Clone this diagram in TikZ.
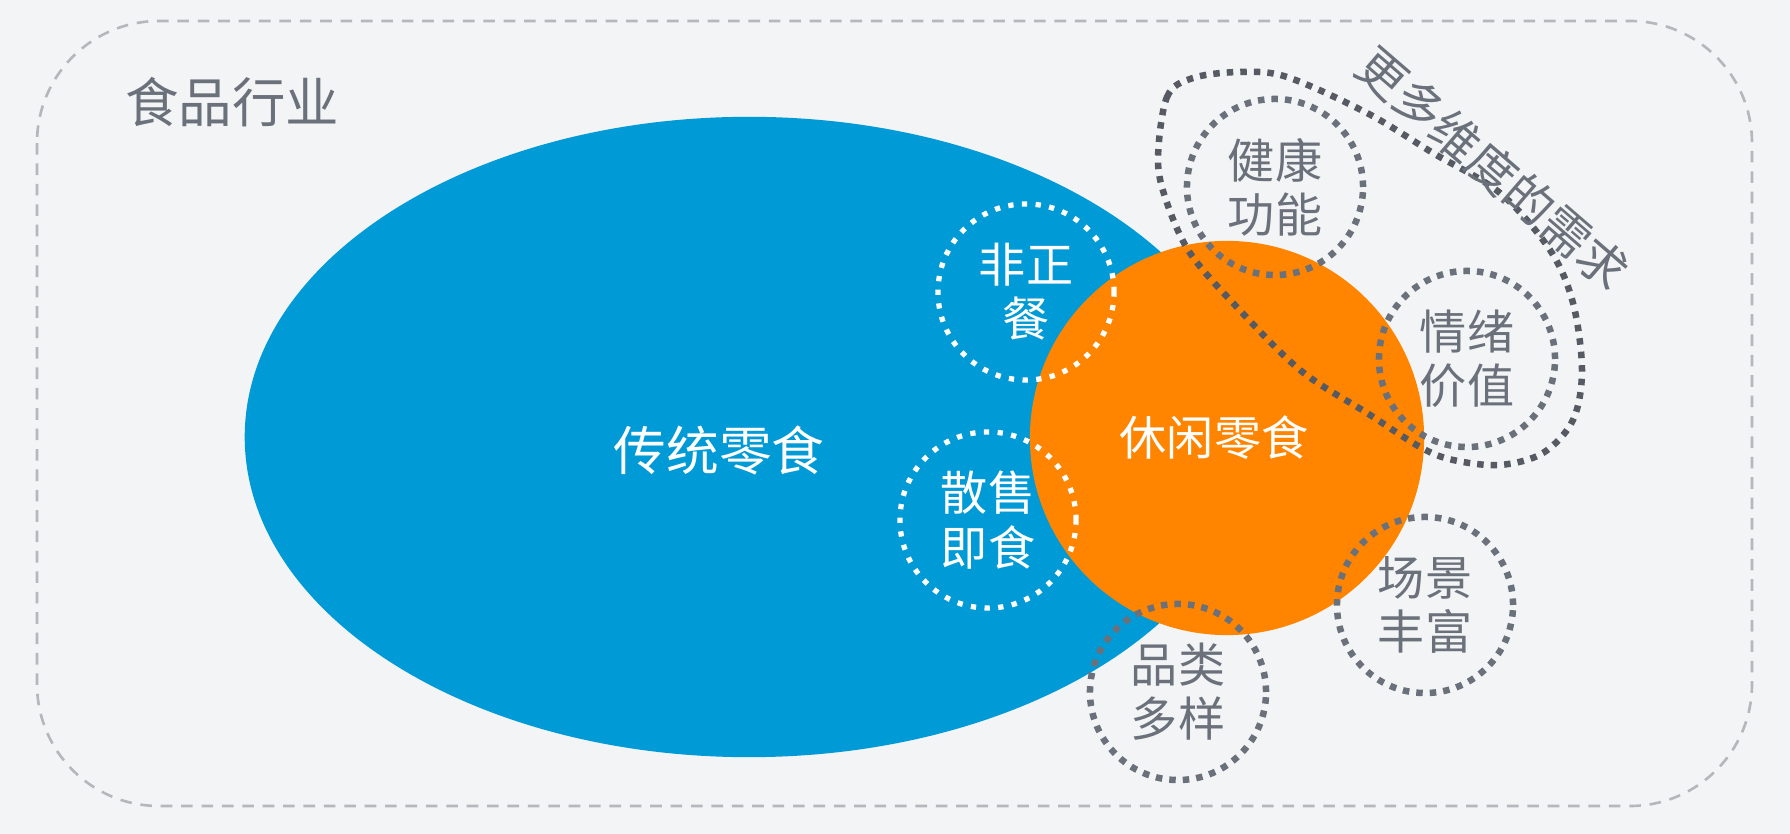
\documentclass[tikz,border=0pt]{standalone}
\usepackage{fontspec}
\newfontfamily\cjk{Noto Sans CJK SC}
\usetikzlibrary{shapes.geometric}
\definecolor{bgcol}{HTML}{F3F4F6}
\definecolor{snackblue}{HTML}{009AD6}
\definecolor{snackorange}{HTML}{FF8500}
\definecolor{dotgray}{HTML}{555A63}
\definecolor{textgray}{HTML}{6B717B}
\definecolor{framegray}{HTML}{B5B7BB}
\begin{document}
\begin{tikzpicture}[x=0.01cm,y=-0.01cm,
        whitedots/.style={draw=white,line width=1.5pt,dash pattern=on 1.5pt off 2.4pt},
        graydots/.style={draw=dotgray,line width=1.85pt,dash pattern=on 1.85pt off 2pt},
        bubble/.style={circle,minimum size=1.76cm,inner sep=0pt,align=center,font=\cjk\fontsize{13.4}{15.4}\selectfont}]
        \fill[bgcol] (0,0) rectangle (1790,834);
        \useasboundingbox (0,0) rectangle (1790,834);
        \draw[framegray,line width=0.75pt,dash pattern=on 3.3pt off 2.5pt,rounded corners=1.22cm] (37,21) rectangle (1752,806);
        \node[textgray,font=\cjk\fontsize{15.2}{18}\selectfont] (industry) at (232,102) {食品行业};
        % the two snack markets
        \node[ellipse,fill=snackblue,minimum width=10.08cm,minimum height=6.4cm] (trad) at (749,437) {};
        \node[white,font=\cjk\fontsize{15}{18}\selectfont] (tradname) at (719,450) {传统零食};
        \node[circle,fill=snackorange,minimum size=3.94cm,inner sep=0pt] (leisure) at (1227,438) {};
        \node[white,font=\cjk\fontsize{13.4}{16}\selectfont] (leisurename) at (1214,438) {休闲零食};
        % features shared with traditional snacks
        \node[bubble,whitedots,white] (meal) at (1026,292) {非正\\餐};
        \node[bubble,whitedots,white] (retail) at (988,520) {散售\\即食};
        % further demands
        \node[bubble,graydots,textgray] (health) at (1275,187) {健康\\功能};
        \node[bubble,graydots,textgray] (emotion) at (1467,359) {情绪\\价值};
        \node[bubble,graydots,textgray] (scene) at (1425,605) {场景\\丰富};
        \node[bubble,graydots,textgray] (variety) at (1178,692) {品类\\多样};
        \draw[graydots] plot[smooth cycle,tension=0.55] coordinates {(1158,160) (1167,97) (1193,78) (1240,72) (1287,77) (1367,113) (1433,153) (1500,193) (1550,250) (1573,303) (1582,370) (1573,420) (1543,453) (1500,465) (1453,460) (1420,447) (1367,413) (1300,370) (1233,303) (1190,253) (1167,203)};
        \node[textgray,rotate=-40.8,font=\cjk\fontsize{13.8}{16}\selectfont] (moredemand) at (1493,168) {更多维度的需求};
\end{tikzpicture}
\end{document}
